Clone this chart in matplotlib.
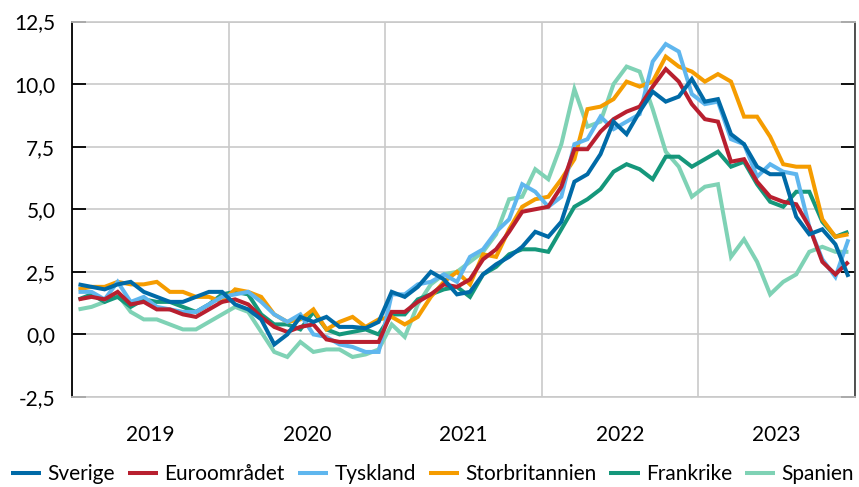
import numpy as np
import matplotlib
matplotlib.use("Agg")
import matplotlib.pyplot as plt
from matplotlib.ticker import FuncFormatter, MultipleLocator, FixedLocator

plt.rcParams["font.family"] = ["Lato", "DejaVu Sans"]

years = ["2019", "2020", "2021", "2022", "2023"]

# månadsvis inflation, jan 2019 - dec 2023, procent
sverige = [2.0, 1.9, 1.8, 2.0, 2.1, 1.7, 1.5, 1.3, 1.3, 1.5, 1.7, 1.7,
           1.2, 1.0, 0.6, -0.4, 0.0, 0.7, 0.5, 0.7, 0.3, 0.3, 0.25, 0.5,
           1.7, 1.5, 1.9, 2.5, 2.2, 1.6, 1.7, 2.4, 2.8, 3.1, 3.5, 4.1,
           3.9, 4.5, 6.1, 6.4, 7.2, 8.5, 8.0, 8.9, 9.7, 9.3, 9.5, 10.2,
           9.3, 9.4, 8.0, 7.6, 6.7, 6.4, 6.4, 4.7, 4.0, 4.2, 3.6, 2.3]
euro = [1.4, 1.5, 1.4, 1.7, 1.2, 1.3, 1.0, 1.0, 0.8, 0.7, 1.0, 1.3,
        1.4, 1.2, 0.7, 0.3, 0.1, 0.3, 0.4, -0.2, -0.3, -0.3, -0.3, -0.3,
        0.9, 0.9, 1.3, 1.6, 2.0, 1.9, 2.2, 3.0, 3.4, 4.1, 4.9, 5.0,
        5.1, 5.9, 7.4, 7.4, 8.1, 8.6, 8.9, 9.1, 9.9, 10.6, 10.1, 9.2,
        8.6, 8.5, 6.9, 7.0, 6.1, 5.5, 5.3, 5.2, 4.3, 2.9, 2.4, 2.9]
tyskland = [1.7, 1.7, 1.4, 2.1, 1.3, 1.5, 1.1, 1.0, 0.9, 0.9, 1.2, 1.5,
            1.6, 1.7, 1.3, 0.8, 0.5, 0.8, 0.0, -0.1, -0.4, -0.5, -0.7, -0.7,
            1.6, 1.6, 2.0, 2.1, 2.4, 2.1, 3.1, 3.4, 4.1, 4.6, 6.0, 5.7,
            5.1, 5.5, 7.6, 7.8, 8.7, 8.2, 8.5, 8.8, 10.9, 11.6, 11.3, 9.6,
            9.2, 9.3, 7.8, 7.6, 6.3, 6.8, 6.5, 6.4, 4.3, 3.0, 2.3, 3.8]
storbritannien = [1.8, 1.9, 1.9, 2.1, 2.0, 2.0, 2.1, 1.7, 1.7, 1.5, 1.5, 1.3,
                  1.8, 1.7, 1.5, 0.8, 0.5, 0.6, 1.0, 0.2, 0.5, 0.7, 0.3, 0.6,
                  0.7, 0.4, 0.7, 1.5, 2.1, 2.5, 2.0, 3.2, 3.1, 4.2, 5.1, 5.4,
                  5.5, 6.2, 7.0, 9.0, 9.1, 9.4, 10.1, 9.9, 10.1, 11.1, 10.7, 10.5,
                  10.1, 10.4, 10.1, 8.7, 8.7, 7.9, 6.8, 6.7, 6.7, 4.6, 3.9, 4.0]
frankrike = [1.4, 1.6, 1.3, 1.5, 1.1, 1.4, 1.3, 1.3, 1.1, 0.9, 1.2, 1.6,
             1.7, 1.6, 0.8, 0.4, 0.4, 0.2, 0.9, 0.2, 0.0, 0.1, 0.2, 0.0,
             0.8, 0.8, 1.4, 1.6, 1.8, 1.9, 1.5, 2.4, 2.7, 3.2, 3.4, 3.4,
             3.3, 4.2, 5.1, 5.4, 5.8, 6.5, 6.8, 6.6, 6.2, 7.1, 7.1, 6.7,
             7.0, 7.3, 6.7, 6.9, 6.0, 5.3, 5.1, 5.7, 5.7, 4.5, 3.9, 4.1]
spanien = [1.0, 1.1, 1.3, 1.6, 0.9, 0.6, 0.6, 0.4, 0.2, 0.2, 0.5, 0.8,
           1.1, 0.9, 0.1, -0.7, -0.9, -0.3, -0.7, -0.6, -0.6, -0.9, -0.8, -0.6,
           0.4, -0.1, 1.2, 2.0, 2.4, 2.5, 2.9, 3.3, 4.0, 5.4, 5.5, 6.6,
           6.2, 7.6, 9.8, 8.3, 8.5, 10.0, 10.7, 10.5, 9.0, 7.3, 6.7, 5.5,
           5.9, 6.0, 3.1, 3.8, 2.9, 1.6, 2.1, 2.4, 3.3, 3.5, 3.3, 3.3]

serier = [
    ("Sverige", sverige, "#006aa7"),
    ("Euroområdet", euro, "#b81f2f"),
    ("Tyskland", tyskland, "#5fb6ee"),
    ("Storbritannien", storbritannien, "#f59c00"),
    ("Frankrike", frankrike, "#15977b"),
    ("Spanien", spanien, "#7fd2b5"),
]

fig = plt.figure(figsize=(8.59, 4.87), dpi=100)
ax = fig.add_axes([0.0838, 0.1848, 0.9115, 0.771])

x = np.arange(len(sverige)) + 0.5
n = len(serier)
for k, (namn, y, farg) in enumerate(serier):
    ax.plot(x, y, color=farg, lw=2.9, label=namn, zorder=10 - k,
            solid_joinstyle="miter", solid_capstyle="butt")

ax.set_xlim(0, 60)
ax.set_ylim(-2.5, 12.5)

# årsgränser som stödlinjer, årtal mitt i varje år
ax.xaxis.set_major_locator(MultipleLocator(12))
ax.xaxis.set_major_formatter(FuncFormatter(lambda v, p: ""))
ax.set_xticks([6, 18, 30, 42, 54], years, minor=True)
ax.tick_params(axis="x", which="both", length=0, labelsize=15, pad=20)

ax.yaxis.set_major_locator(MultipleLocator(2.5))
ax.yaxis.set_major_formatter(FuncFormatter(lambda v, p: f"{v:.1f}".replace(".", ",")))
ax.tick_params(axis="y", which="major", direction="in", length=10, width=1.3,
               labelsize=15, pad=12, right=True, colors="black")

ax.grid(True, which="major", color="#c9c9c9", lw=1.2, zorder=0)
ax.set_axisbelow(True)

for s in ["top", "bottom"]:
    ax.spines[s].set_color("#c9c9c9")
    ax.spines[s].set_linewidth(1.2)
ax.spines["left"].set_color("black")
ax.spines["left"].set_linewidth(1.3)
ax.spines["right"].set_color("#444444")
ax.spines["right"].set_linewidth(1.3)

fig.legend(loc="lower center", bbox_to_anchor=(0.5035, -0.02), ncol=n, frameon=False,
           fontsize=15, handlelength=1.45, handletextpad=0.3, columnspacing=0.62,
           borderaxespad=0.2)

fig.savefig("out.png", dpi=100)
